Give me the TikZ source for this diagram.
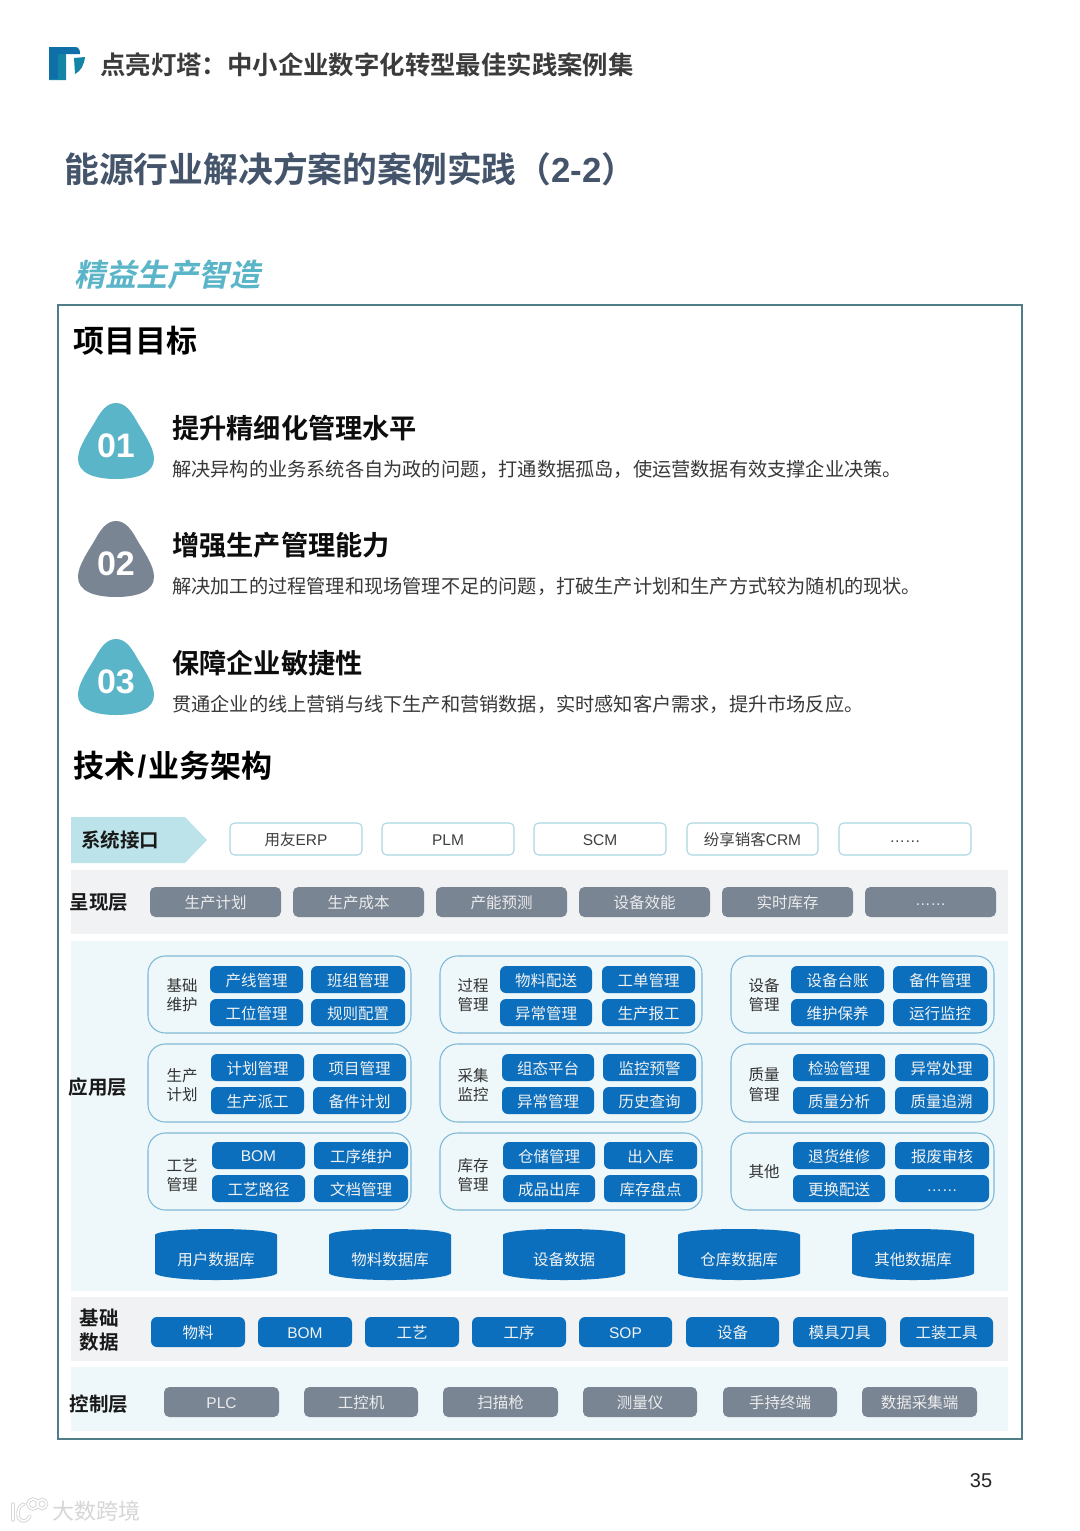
\documentclass[tikz,border=0pt]{standalone}
\usepackage{fontspec}
\setmainfont{Noto Sans CJK SC}[BoldFont={Noto Sans CJK SC Bold}]
\newfontfamily\lat{Liberation Sans}[BoldFont={Liberation Sans Bold}]
\newfontfamily\cjkit{Noto Sans CJK SC Bold}[FakeSlant=0.22]
\definecolor{frame}{HTML}{4F7D88}
\definecolor{teal}{HTML}{5BB5C8}
\definecolor{slate}{HTML}{7A8594}
\definecolor{blue}{HTML}{0B6FBD}
\definecolor{navy}{HTML}{44546A}
\definecolor{bandgray}{HTML}{F0F2F4}
\definecolor{bandteal}{HTML}{EEF7F9}
\definecolor{arrowfill}{HTML}{BDE3EA}
\definecolor{grpline}{HTML}{7FB9D8}
\definecolor{ifline}{HTML}{A9D6E0}
\definecolor{logoa}{HTML}{0F6FA8}
\definecolor{logob}{HTML}{1585A5}
\newcommand\pxfont[1]{\fontsize{\dimexpr#1pt*3/4\relax}{\dimexpr#1pt*9/8\relax}\selectfont}
\newcommand\lowdots{\raisebox{-2.1pt}[0pt][0pt]{\lat ……}}
\tikzset{
  x=0.75pt,y=-0.75pt,
  base/.style={inner sep=0pt,outer sep=0pt,align=center,line width=0.8pt},
  ifbox/.style={base,draw=ifline,fill=white,rounded corners=3.5pt,text=black!75,font=\pxfont{15.5}},
  graybtn/.style={base,fill=slate,rounded corners=4pt,text=white!92!black,font=\pxfont{15.5}},
  bluebtn/.style={base,fill=blue,rounded corners=4.5pt,text=white!95!black,font=\pxfont{15.5}},
  group/.style={base,draw=grpline,rounded corners=13pt},
  band/.style={base},
  lbl/.style={inner sep=0pt,outer sep=0pt,align=center,font=\bfseries\pxfont{19.5},text=black!90},
  sublbl/.style={inner sep=0pt,outer sep=0pt,align=center,font=\pxfont{15.5},text=black!80},
  h1/.style={inner sep=0pt,anchor=west,font=\bfseries\pxfont{31},text=black},
  h2/.style={inner sep=0pt,anchor=west,font=\bfseries\pxfont{27.2},text=black!95},
  desc/.style={inner sep=0pt,anchor=west,font=\pxfont{19.2},text=black!78},
  num/.style={inner sep=0pt,font=\lat\bfseries\pxfont{34},text=white},
  dbtxt/.style={inner sep=0pt,font=\pxfont{15.5},text=white!95!black},
}
% style, name, x1, y1, x2, y2, text
\newcommand\bx[7]{%
  \pgfmathsetmacro\bw{(#5-#3)*0.75}\pgfmathsetmacro\bh{(#6-#4)*0.75}%
  \pgfmathsetmacro\bcx{(#3+#5)/2}\pgfmathsetmacro\bcy{(#4+#6)/2}%
  \node[#1,minimum width=\bw pt,minimum height=\bh pt] (#2) at (\bcx,\bcy) {\raisebox{-0.5pt}[\height][\depth]{#7}};}
\newcommand\blob[4]{%
  \fill[#3,shift={(116,#2)}] (0,0) .. controls (9,0) and (15,8) .. (20,17)
     .. controls (28,31) and (38,44) .. (38,56)
     .. controls (38,70) and (22,76) .. (0,76)
     .. controls (-22,76) and (-38,70) .. (-38,56)
     .. controls (-38,44) and (-28,31) .. (-20,17)
     .. controls (-15,8) and (-9,0) .. (0,0) -- cycle;
  \node[num] (#1) at (116,{#2+43}) {#4};}
% name, x1, text
\newcommand\dbase[3]{%
  \fill[blue,shift={(#2,1229)}] (0,6) .. controls (0,3) and (22,0) .. (61,0)
     .. controls (100,0) and (122,3) .. (122,6)
     -- (122,44) .. controls (122,47) and (100,51) .. (61,51)
     .. controls (22,51) and (0,47) .. (0,44) -- cycle;
  \node[dbtxt] (#1) at ({#2+61},1259.5) {#3};}
\begin{document}
\begin{tikzpicture}
\useasboundingbox (0,0) rectangle (1080,1531);
\fill[white] (0,0) rectangle (1080,1531);
% logo
\fill[logoa] (49,47) -- (75,47) .. controls (79,47) and (80,50) .. (80,54) -- (58,54) -- (58,79) -- (49,79) -- cycle;
\fill[logob] (58,54) -- (66,54) -- (66,80) -- (49,80) -- (49,79) -- (58,79) -- cycle;
\fill[logob] (74,58) -- (85,57) .. controls (84,65) and (81,71) .. (75,74) -- cycle;
\node[inner sep=0pt,anchor=west,font=\bfseries\pxfont{25.4},text=black!77] (hdr) at (100,64.5) {点亮灯塔：中小企业数字化转型最佳实践案例集};
\node[inner sep=0pt,anchor=west,font=\bfseries\pxfont{34.8},text=navy] (title) at (64,169.5) {能源行业解决方案的案例实践（{\lat 2-2}）};
\node[inner sep=0pt,anchor=west,font=\cjkit\pxfont{31},text=teal] (sub) at (74,275) {精益生产智造};
\draw[frame,line width=1.5pt] (58,305) rectangle (1022,1439);
\node[h1] (goal) at (73,341) {项目目标};
\blob{n1}{403}{teal}{01}
\blob{n2}{521}{slate}{02}
\blob{n3}{639}{teal}{03}
\node[h2] (h1t) at (172,428) {提升精细化管理水平};
\node[desc] (d1) at (172,469) {解决异构的业务系统各自为政的问题，打通数据孤岛，使运营数据有效支撑企业决策。};
\node[h2] (h2t) at (172,545.5) {增强生产管理能力};
\node[desc] (d2) at (172,586) {解决加工的过程管理和现场管理不足的问题，打破生产计划和生产方式较为随机的现状。};
\node[h2] (h3t) at (172,663.5) {保障企业敏捷性};
\node[desc] (d3) at (172,704) {贯通企业的线上营销与线下生产和营销数据，实时感知客户需求，提升市场反应。};
\node[h1] (arch) at (73,766) {技术\kern1.8pt{\lat /}\kern1.8pt业务架构};
% system interface
\fill[arrowfill] (71,817) -- (185,817) -- (207,840) -- (185,863) -- (71,863) -- cycle;
\node[lbl,anchor=west] (sys) at (81,840) {系统接口};
\bx{ifbox}{i1}{230}{823}{362}{855}{用友{\lat ERP}}
\bx{ifbox}{i2}{382}{823}{514}{855}{\lat PLM}
\bx{ifbox}{i3}{534}{823}{666}{855}{\lat SCM}
\bx{ifbox}{i4}{687}{823}{818}{855}{纷享销客{\lat CRM}}
\bx{ifbox}{i5}{839}{823}{971}{855}{\lowdots}
% presentation
\bx{band,fill=bandgray}{bp}{71}{870}{1008}{934}{}
\node[lbl] (lp) at (99,903) {呈现层};
\bx{graybtn}{p1}{150}{887}{281}{917}{生产计划}
\bx{graybtn}{p2}{293}{887}{424}{917}{生产成本}
\bx{graybtn}{p3}{436}{887}{567}{917}{产能预测}
\bx{graybtn}{p4}{579}{887}{710}{917}{设备效能}
\bx{graybtn}{p5}{722}{887}{853}{917}{实时库存}
\bx{graybtn}{p6}{865}{887}{996}{917}{\lowdots}
% application
\bx{band,fill=bandteal}{ba}{71}{941}{1008}{1291}{}
\node[lbl] (la) at (98,1087) {应用层};
\bx{group}{g11}{148}{956}{411}{1033}{}
\bx{group}{g12}{440}{956}{702}{1033}{}
\bx{group}{g13}{731}{956}{994}{1033}{}
\bx{group}{g21}{148}{1044}{411}{1122}{}
\bx{group}{g22}{440}{1044}{702}{1122}{}
\bx{group}{g23}{731}{1044}{994}{1122}{}
\bx{group}{g31}{148}{1133}{411}{1210}{}
\bx{group}{g32}{440}{1133}{702}{1210}{}
\bx{group}{g33}{731}{1133}{994}{1210}{}
\node[sublbl] (s11) at (182,995) {基础\\[-3pt]维护};
\node[sublbl] (s12) at (473,995) {过程\\[-3pt]管理};
\node[sublbl] (s13) at (764,995) {设备\\[-3pt]管理};
\node[sublbl] (s21) at (182,1085) {生产\\[-2.6pt]计划};
\node[sublbl] (s22) at (473,1085) {采集\\[-2.6pt]监控};
\node[sublbl] (s23) at (764,1085) {质量\\[-2.6pt]管理};
\node[sublbl] (s31) at (182,1175) {工艺\\[-3pt]管理};
\node[sublbl] (s32) at (473,1175) {库存\\[-3pt]管理};
\node[sublbl] (s33) at (764,1171.5) {其他};
% row 1
\bx{bluebtn}{a1}{210}{966}{303}{993}{产线管理}
\bx{bluebtn}{a2}{311}{966}{405}{993}{班组管理}
\bx{bluebtn}{a3}{210}{999}{303}{1026}{工位管理}
\bx{bluebtn}{a4}{311}{999}{405}{1026}{规则配置}
\bx{bluebtn}{a5}{500}{966}{592}{993}{物料配送}
\bx{bluebtn}{a6}{602}{966}{695}{993}{工单管理}
\bx{bluebtn}{a7}{500}{999}{592}{1026}{异常管理}
\bx{bluebtn}{a8}{602}{999}{695}{1026}{生产报工}
\bx{bluebtn}{a9}{791}{966}{884}{993}{设备台账}
\bx{bluebtn}{a10}{893}{966}{987}{993}{备件管理}
\bx{bluebtn}{a11}{791}{999}{884}{1026}{维护保养}
\bx{bluebtn}{a12}{893}{999}{987}{1026}{运行监控}
% row 2
\bx{bluebtn}{b1}{211}{1054}{304}{1081}{计划管理}
\bx{bluebtn}{b2}{313}{1054}{406}{1081}{项目管理}
\bx{bluebtn}{b3}{211}{1087}{304}{1114}{生产派工}
\bx{bluebtn}{b4}{313}{1087}{406}{1114}{备件计划}
\bx{bluebtn}{b5}{502}{1054}{594}{1081}{组态平台}
\bx{bluebtn}{b6}{603}{1054}{696}{1081}{监控预警}
\bx{bluebtn}{b7}{502}{1087}{594}{1114}{异常管理}
\bx{bluebtn}{b8}{603}{1087}{696}{1114}{历史查询}
\bx{bluebtn}{b9}{793}{1054}{885}{1081}{检验管理}
\bx{bluebtn}{b10}{895}{1054}{988}{1081}{异常处理}
\bx{bluebtn}{b11}{793}{1087}{885}{1114}{质量分析}
\bx{bluebtn}{b12}{895}{1087}{988}{1114}{质量追溯}
% row 3
\bx{bluebtn}{c1}{212}{1142}{305}{1169}{\lat BOM}
\bx{bluebtn}{c2}{314}{1142}{408}{1169}{工序维护}
\bx{bluebtn}{c3}{212}{1175}{305}{1202}{工艺路径}
\bx{bluebtn}{c4}{314}{1175}{408}{1202}{文档管理}
\bx{bluebtn}{c5}{503}{1142}{595}{1169}{仓储管理}
\bx{bluebtn}{c6}{604}{1142}{697}{1169}{出入库}
\bx{bluebtn}{c7}{503}{1175}{595}{1202}{成品出库}
\bx{bluebtn}{c8}{604}{1175}{697}{1202}{库存盘点}
\bx{bluebtn}{c9}{793}{1142}{885}{1169}{退货维修}
\bx{bluebtn}{c10}{895}{1142}{989}{1169}{报废审核}
\bx{bluebtn}{c11}{793}{1175}{885}{1202}{更换配送}
\bx{bluebtn}{c12}{895}{1175}{989}{1202}{\lowdots}
% databases
\dbase{db1}{155}{用户数据库}
\dbase{db2}{329}{物料数据库}
\dbase{db3}{503}{设备数据}
\dbase{db4}{678}{仓库数据库}
\dbase{db5}{852}{其他数据库}
% base data
\bx{band,fill=bandgray}{bb}{71}{1297}{1008}{1361}{}
\node[lbl] (lb) at (99,1330.5) {基础\\[-4pt]数据};
\bx{bluebtn}{e1}{151}{1317}{245}{1347}{物料}
\bx{bluebtn}{e2}{258}{1317}{352}{1347}{\lat BOM}
\bx{bluebtn}{e3}{365}{1317}{459}{1347}{工艺}
\bx{bluebtn}{e4}{472}{1317}{566}{1347}{工序}
\bx{bluebtn}{e5}{579}{1317}{672}{1347}{\lat SOP}
\bx{bluebtn}{e6}{686}{1317}{779}{1347}{设备}
\bx{bluebtn}{e7}{793}{1317}{886}{1347}{模具刀具}
\bx{bluebtn}{e8}{900}{1317}{993}{1347}{工装工具}
% control
\bx{band,fill=bandteal}{bc}{71}{1367}{1008}{1431}{}
\node[lbl] (lc) at (99,1404) {控制层};
\bx{graybtn}{f1}{164}{1387}{279}{1417}{\lat PLC}
\bx{graybtn}{f2}{304}{1387}{418}{1417}{工控机}
\bx{graybtn}{f3}{443}{1387}{558}{1417}{扫描枪}
\bx{graybtn}{f4}{583}{1387}{697}{1417}{测量仪}
\bx{graybtn}{f5}{723}{1387}{837}{1417}{手持终端}
\bx{graybtn}{f6}{862}{1387}{977}{1417}{数据采集端}
% page number
\node[inner sep=0pt,font=\lat\pxfont{20},text=black!85] (page) at (981,1480.5) {35};
% watermark
\foreach \w/\c in {2.6pt/black!16,1.2pt/white}{
  \draw[\c,line width=\w,line cap=round] (13,1504) -- (13,1520);
  \draw[\c,line width=\w,line cap=round] (30,1516) .. controls (26,1524) and (17,1522) .. (18,1513) .. controls (18,1508) and (21,1505) .. (24,1504);
  \draw[\c,line width=\w] (33,1504) circle[radius=5];
  \draw[\c,line width=\w] (42,1504) circle[radius=4.5];
}
\node[inner sep=0pt,anchor=west,font=\pxfont{22},text=black!16] (wm) at (52,1511) {大数跨境};
\end{tikzpicture}
\end{document}
